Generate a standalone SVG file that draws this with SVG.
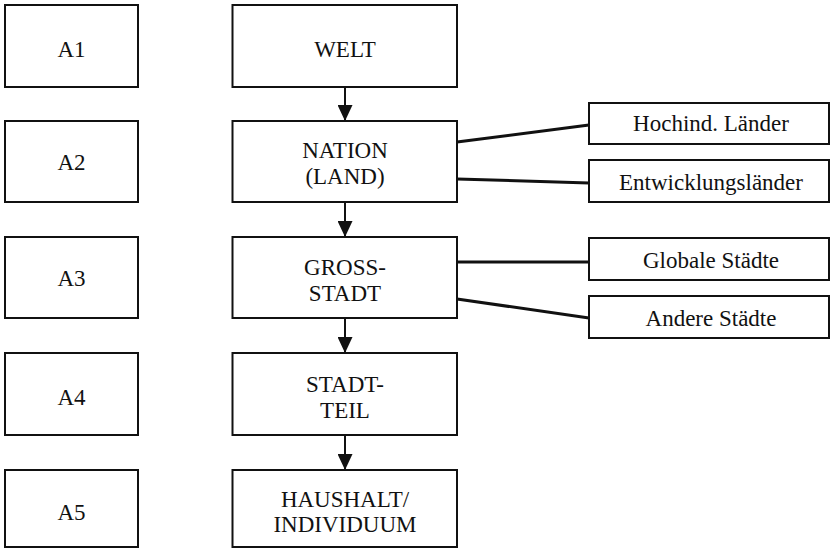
<svg xmlns="http://www.w3.org/2000/svg" width="831" height="549" viewBox="0 0 831 549">
<style>
.box{fill:#fff;stroke:#111;stroke-width:2}
.ln{stroke:#111;stroke-width:2;fill:none}
.side{stroke:#111;stroke-width:3;fill:none}
.t{font-family:"Liberation Serif","Times New Roman",serif;font-size:23px;fill:#111;text-anchor:middle}
</style>
<defs>
<marker id="ah" markerWidth="16" markerHeight="15" refX="16" refY="7.5" orient="auto" markerUnits="userSpaceOnUse" viewBox="0 0 16 15">
<path d="M0,0 L16,7.5 L0,15 Z" fill="#111"/>
</marker>
</defs>
<rect width="831" height="549" fill="#fff"/>
<g id="connectors">
<line class="ln" x1="345" y1="87" x2="345" y2="121" marker-end="url(#ah)"/>
<line class="ln" x1="345" y1="202" x2="345" y2="237" marker-end="url(#ah)"/>
<line class="ln" x1="345" y1="318" x2="345" y2="353" marker-end="url(#ah)"/>
<line class="ln" x1="345" y1="435" x2="345" y2="470" marker-end="url(#ah)"/>
<line class="side" x1="457" y1="142" x2="589" y2="125"/>
<line class="side" x1="457" y1="179" x2="589" y2="183"/>
<line class="side" x1="457" y1="262" x2="589" y2="262"/>
<line class="side" x1="457" y1="299" x2="589" y2="318"/>
</g>
<g id="A1"><rect class="box" x="5" y="5" width="133" height="82"/><text class="t" x="71.5" y="57">A1</text></g>
<g id="A2"><rect class="box" x="5" y="121" width="133" height="81"/><text class="t" x="71.5" y="170">A2</text></g>
<g id="A3"><rect class="box" x="5" y="237" width="133" height="81"/><text class="t" x="71.5" y="286">A3</text></g>
<g id="A4"><rect class="box" x="5" y="353" width="133" height="82"/><text class="t" x="71.5" y="405">A4</text></g>
<g id="A5"><rect class="box" x="5" y="470" width="133" height="77"/><text class="t" x="71.5" y="520">A5</text></g>
<g id="welt"><rect class="box" x="232.5" y="5" width="224.5" height="82"/><text class="t" x="345" y="57">WELT</text></g>
<g id="nation"><rect class="box" x="232.5" y="121" width="224.5" height="81"/><text class="t" x="345" y="158">NATION</text><text class="t" x="345" y="184">(LAND)</text></g>
<g id="grossstadt"><rect class="box" x="232.5" y="237" width="224.5" height="81"/><text class="t" x="345" y="275">GROSS-</text><text class="t" x="345" y="301">STADT</text></g>
<g id="stadtteil"><rect class="box" x="232.5" y="353" width="224.5" height="82"/><text class="t" x="345" y="392">STADT-</text><text class="t" x="345" y="418">TEIL</text></g>
<g id="haushalt"><rect class="box" x="232.5" y="470" width="224.5" height="77"/><text class="t" x="345" y="507">HAUSHALT/</text><text class="t" x="345" y="532">INDIVIDUUM</text></g>
<g id="hochind"><rect class="box" x="589" y="103" width="240" height="41"/><text class="t" x="711" y="131">Hochind. Länder</text></g>
<g id="entwicklung"><rect class="box" x="589" y="160" width="240" height="42"/><text class="t" x="711" y="190">Entwicklungsländer</text></g>
<g id="globale"><rect class="box" x="589" y="238" width="240" height="42"/><text class="t" x="711" y="268">Globale Städte</text></g>
<g id="andere"><rect class="box" x="589" y="296" width="240" height="42"/><text class="t" x="711" y="326">Andere Städte</text></g>
</svg>
